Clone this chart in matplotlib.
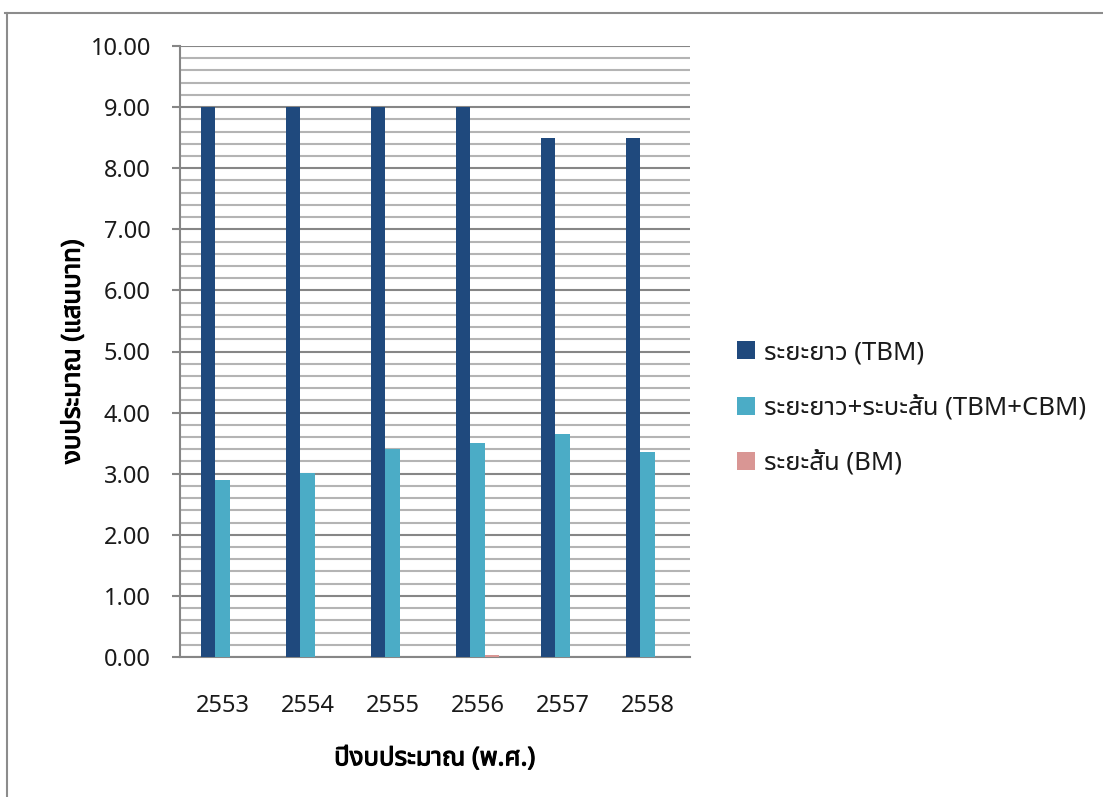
import matplotlib
matplotlib.use("Agg")
import matplotlib.pyplot as plt
from matplotlib.lines import Line2D
from matplotlib.ticker import MultipleLocator, FormatStrFormatter
import matplotlib.patheffects as pe
import numpy as np

plt.rcParams['font.family'] = ['Noto Sans Thai', 'Noto Sans', 'DejaVu Sans']

years = ["2553", "2554", "2555", "2556", "2557", "2558"]
series_names = ["ระยะยาว (TBM)", "ระยะยาว+ระบะสั้น (TBM+CBM)", "ระยะสั้น (BM)"]
tbm = [9.00, 9.00, 9.00, 9.00, 8.50, 8.50]
tbm_cbm = [2.90, 3.01, 3.40, 3.50, 3.65, 3.36]
bm = [0.00, 0.00, 0.00, 0.03, 0.00, 0.00]
colors = ["#1F497D", "#4BACC6", "#D99694"]
y_label = "งบประมาณ (แสนบาท)"
x_label = "ปีงบประมาณ (พ.ศ.)"

W, H = 1103, 797
fig = plt.figure(figsize=(W / 100, H / 100), dpi=100)
ax = fig.add_axes([180 / W, 1 - 657 / H, 510 / W, 611 / H])

x = np.arange(len(years))
w = 0.167
for k, (vals, c, name) in enumerate(zip([tbm, tbm_cbm, bm], colors, series_names)):
    ax.bar(x + (k - 1) * w, vals, width=w, color=c, label=name, zorder=3)

ax.set_xlim(-0.5, len(years) - 0.5)
ax.set_ylim(0, 10)
ax.yaxis.set_major_locator(MultipleLocator(1))
ax.yaxis.set_minor_locator(MultipleLocator(0.2))
ax.yaxis.set_major_formatter(FormatStrFormatter("%.2f"))
ax.grid(axis='y', which='major', color='#868686', linewidth=1.5, zorder=0)
ax.grid(axis='y', which='minor', color='#b4b4b4', linewidth=1.5, zorder=0)
ax.set_axisbelow(True)

ax.set_xticks(x)
ax.set_xticklabels(years)
ax.tick_params(axis='x', length=0, pad=27, labelsize=17, labelcolor='#1a1a1a')
ax.tick_params(axis='y', which='major', length=6, width=1.5, color='#868686',
               labelsize=17, labelcolor='#1a1a1a', pad=15)
ax.tick_params(axis='y', which='minor', length=0)

for s in ['top', 'right']:
    ax.spines[s].set_visible(False)
for s in ['left', 'bottom']:
    ax.spines[s].set_color('#868686')
    ax.spines[s].set_linewidth(1.5)

bold = [pe.withStroke(linewidth=0.8, foreground='black')]
ax.set_ylabel(y_label, fontsize=18.5, fontweight='bold', labelpad=3.5, color='black',
              path_effects=bold)
ax.set_xlabel(x_label, fontsize=18.5, fontweight='bold', labelpad=20, color='black',
              path_effects=bold)

leg = ax.legend(loc='center left', bbox_to_anchor=((737 - 180) / 510, (657 - 408) / 611),
                frameon=False, fontsize=18.5, handlelength=0.7, handleheight=0.7,
                handletextpad=0.35, labelspacing=1.15, borderaxespad=0, borderpad=0)
for t in leg.get_texts():
    t.set_color('#1a1a1a')

# outer frame lines
fig.add_artist(Line2D([5 / W, 1.0], [1 - 13 / H, 1 - 13 / H], color='#8c8c8c', linewidth=1.5,
                      transform=fig.transFigure))
fig.add_artist(Line2D([7 / W, 7 / W], [1 - 13 / H, 0], color='#8c8c8c', linewidth=1.5,
                      transform=fig.transFigure))

fig.savefig("out.png", dpi=100)
